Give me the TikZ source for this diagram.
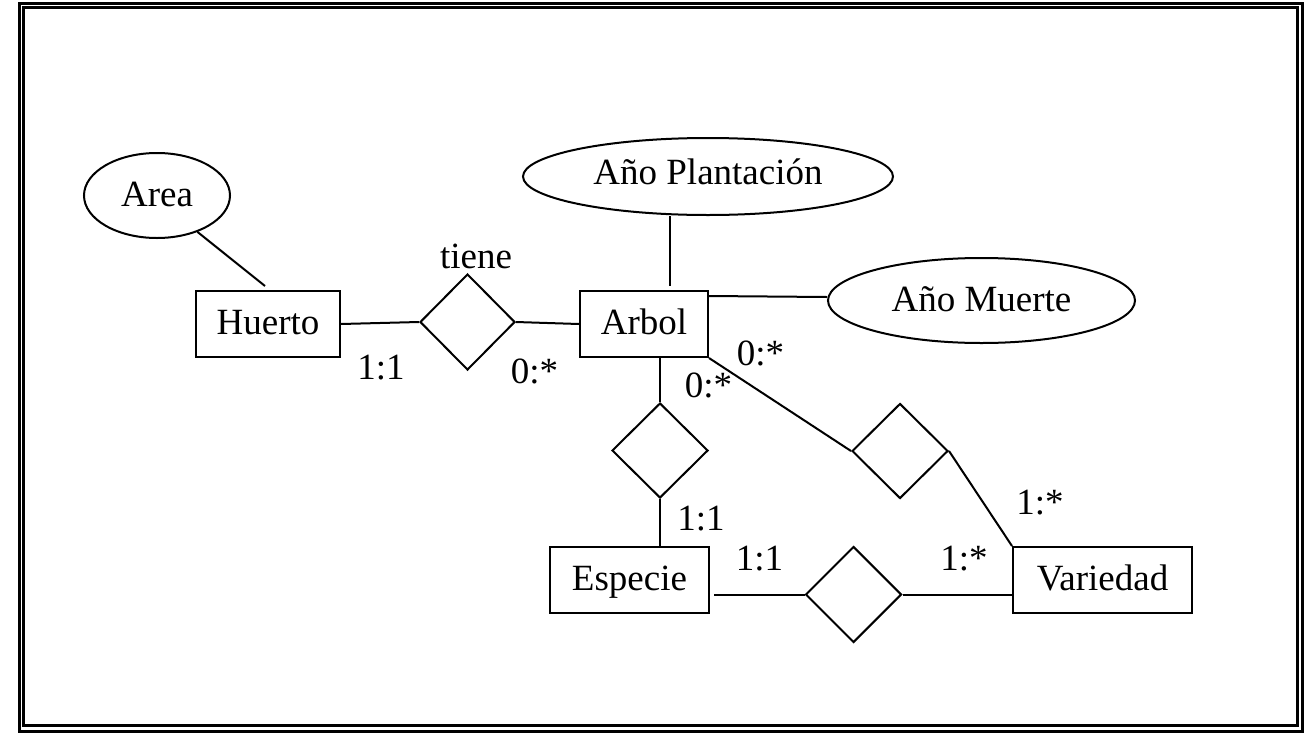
\documentclass[tikz,border=0pt]{standalone}
\usepackage{fontspec}
\setmainfont{Liberation Serif}
\usetikzlibrary{shapes.geometric,calc}
\tikzset{
  er/.style={line width=2pt,draw=black,inner sep=0pt,
    font=\fontsize{37}{44}\selectfont,text height=21pt,text depth=0pt},
  entity/.style={er,rectangle,minimum height=66pt},
  attrib/.style={er,ellipse},
  rel/.style={er,diamond,minimum width=96pt,minimum height=96pt},
  card/.style={anchor=base,inner sep=0pt,font=\fontsize{37}{44}\selectfont},
  conn/.style={line width=2pt},
  frame/.style={line width=2.5pt}
}
\begin{document}
\begin{tikzpicture}[x=1pt,y=-1pt]
\useasboundingbox (0,0) rectangle (1307,734);
% double frame
\draw[frame] (19.5,3.5) rectangle (1302.5,731.5);
\draw[frame] (23.5,7.5) rectangle (1297.5,725.5);

% entities
\node[entity,minimum width=144pt] (huerto) at (268,324) {Huerto};
\node[entity,minimum width=128pt] (arbol) at (644,324) {Arbol};
\node[entity,minimum width=159pt] (especie) at (629.5,580) {Especie};
\node[entity,minimum width=179pt] (variedad) at (1102.5,580) {Variedad};

% attributes
\node[attrib,minimum width=146pt,minimum height=85pt] (area) at (157,195.5) {Area};
\node[attrib,minimum width=370pt,minimum height=77pt,text height=15pt] (plant) at (708,176.5) {Año Plantación};
\node[attrib,minimum width=307pt,minimum height=85pt] (muerte) at (981.5,300.5) {Año Muerte};

% relationships
\node[rel,minimum width=95pt] (tiene) at (467.5,322) {};
\node[rel,minimum height=95pt] (rel2) at (660,450.5) {};
\node[rel,minimum height=95pt] (rel3) at (900,451) {};
\node[rel] (rel4) at (853.5,594.5) {};
\node[card] (tienelbl) at (476,268) {tiene};

% connectors
\draw[conn] (area.-42) -- ([xshift=-3pt,yshift=4pt]huerto.north);
\draw[conn] (huerto.east) -- (tiene.west);
\draw[conn] (tiene.east) -- (arbol.west);
\path (arbol.north west) ++(91,0) coordinate (pa);
\draw[conn] (pa |- plant.south) -- ([yshift=4pt]pa);
\draw[conn] ([yshift=-6pt]arbol.north east) -- ([yshift=3.5pt]muerte.west);
\draw[conn] (rel2.north) -- (rel2.north |- arbol.south);
\draw[conn] (rel2.south) -- (rel2.south |- especie.north);
\draw[conn] (arbol.south east) -- (rel3.west);
\draw[conn] (rel3.east) -- (variedad.north west);
\draw[conn] (rel4.west) -- ([xshift=4pt]rel4.west -| especie.east);
\draw[conn] (rel4.east) -- (rel4.east -| variedad.west);

% cardinalities
\node[card] (c1) at (381,379) {1:1};
\node[card] (c2) at (534.5,383) {0:*};
\node[card] (c3) at (760.5,365) {0:*};
\node[card] (c4) at (708.5,397) {0:*};
\node[card] (c5) at (701,530) {1:1};
\node[card] (c6) at (759.5,570) {1:1};
\node[card] (c7) at (964,570) {1:*};
\node[card] (c8) at (1040,514) {1:*};
\end{tikzpicture}
\end{document}
